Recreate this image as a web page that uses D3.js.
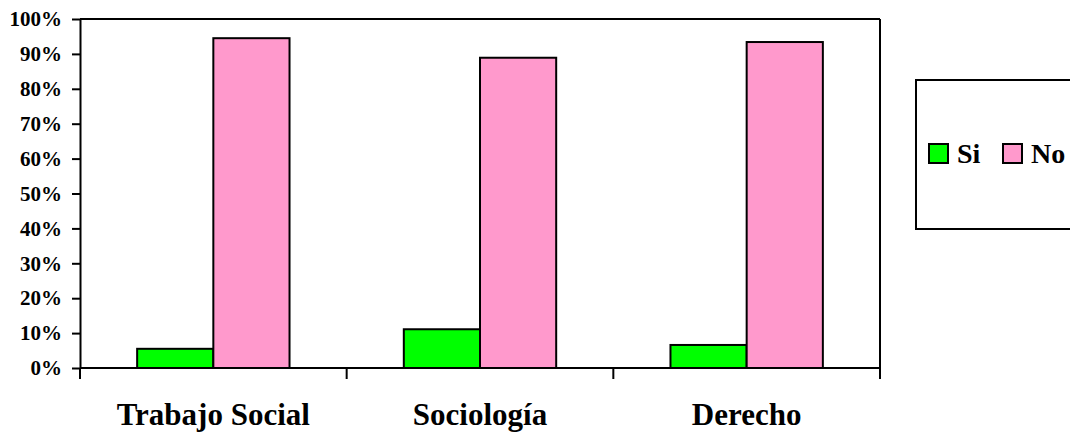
<!DOCTYPE html>
<html>
<head>
<meta charset="utf-8">
<script src="https://cdn.jsdelivr.net/npm/d3@7/dist/d3.min.js"></script>
<style>
  html, body { margin: 0; padding: 0; background: #fff; }
  svg { display: block; }
  svg text { font-family: "Liberation Serif", "Times New Roman", serif !important; font-weight: bold; fill: #000; }
</style>
</head>
<body>
<svg id="chart" width="1070" height="433"></svg>
<script>
const categories = ["Trabajo Social", "Sociología", "Derecho"];
const seriesNames = ["Si", "No"];
const siValues = [0.055, 0.111, 0.066];
const noValues = [0.945, 0.889, 0.934];
const yTicks = [0, 0.1, 0.2, 0.3, 0.4, 0.5, 0.6, 0.7, 0.8, 0.9, 1.0];
const colors = ["#00FF00", "#FF99CC"];

const svg = d3.select("#chart");
const mLeft = 80, mRight = 880, mTop = 19, mBottom = 368;
const FONT = '"Liberation Serif", "Times New Roman", serif';

const x = d3.scaleBand().domain(categories).range([mLeft, mRight]).paddingInner(0).paddingOuter(0);
const xInner = d3.scaleBand().domain(seriesNames).range([0, x.bandwidth()]).paddingInner(0).paddingOuter(0.75);
const y = d3.scaleLinear().domain([0, 1]).range([mBottom, mTop]);

const data = categories.map((c, i) => ({ cat: c, vals: [siValues[i], noValues[i]] }));

// bars
const g = svg.append("g");
data.forEach(d => {
  d.vals.forEach((v, j) => {
    g.append("rect")
      .attr("x", x(d.cat) + xInner(seriesNames[j]))
      .attr("y", y(v))
      .attr("width", xInner.bandwidth())
      .attr("height", y(0) - y(v))
      .attr("fill", colors[j])
      .attr("stroke", "#000")
      .attr("stroke-width", 2);
  });
});

// plot border top and right
svg.append("line").attr("x1", mLeft).attr("x2", mRight).attr("y1", mTop).attr("y2", mTop)
  .attr("stroke", "#000").attr("stroke-width", 2);
svg.append("line").attr("x1", mRight).attr("x2", mRight).attr("y1", mTop).attr("y2", mBottom)
  .attr("stroke", "#000").attr("stroke-width", 2);

// y axis
const yAxis = d3.axisLeft(y).tickValues(yTicks).tickFormat(d3.format(".0%")).tickSize(8).tickSizeOuter(0).tickPadding(10);
const ya = svg.append("g").attr("transform", `translate(${mLeft},0)`).call(yAxis);
ya.attr("font-family", FONT).attr("font-size", 21);
ya.select(".domain").attr("stroke", "#000").attr("stroke-width", 2);
ya.selectAll(".tick line").attr("stroke", "#000").attr("stroke-width", 2);
ya.selectAll("text").style("font-size", "21px").style("font-family", FONT).style("font-weight", "bold");

// x axis
const xa = svg.append("g").attr("transform", `translate(0,${mBottom})`);
xa.append("line").attr("x1", mLeft).attr("x2", mRight).attr("y1", 0).attr("y2", 0)
  .attr("stroke", "#000").attr("stroke-width", 2);
const boundaries = categories.map(c => x(c)).concat([x(categories[categories.length - 1]) + x.bandwidth()]);
boundaries.forEach(b => {
  xa.append("line").attr("x1", b).attr("x2", b).attr("y1", 0).attr("y2", 11)
    .attr("stroke", "#000").attr("stroke-width", 2);
});
categories.forEach(c => {
  xa.append("text")
    .attr("x", x(c) + x.bandwidth() / 2)
    .attr("y", 57)
    .attr("text-anchor", "middle")
    .style("font-family", FONT)
    .style("font-size", "31px")
    .text(c);
});

// legend
const lg = svg.append("g");
lg.append("rect").attr("x", 916).attr("y", 80).attr("width", 170).attr("height", 149)
  .attr("fill", "#fff").attr("stroke", "#000").attr("stroke-width", 2);
const legendX = [929, 1003];
seriesNames.forEach((s, j) => {
  lg.append("rect").attr("x", legendX[j]).attr("y", 144).attr("width", 19).attr("height", 19)
    .attr("fill", colors[j]).attr("stroke", "#000").attr("stroke-width", 2);
  lg.append("text").attr("x", legendX[j] + 28).attr("y", 163)
    .style("font-family", FONT)
    .style("font-size", "28px").text(s);
});
</script>
</body>
</html>
